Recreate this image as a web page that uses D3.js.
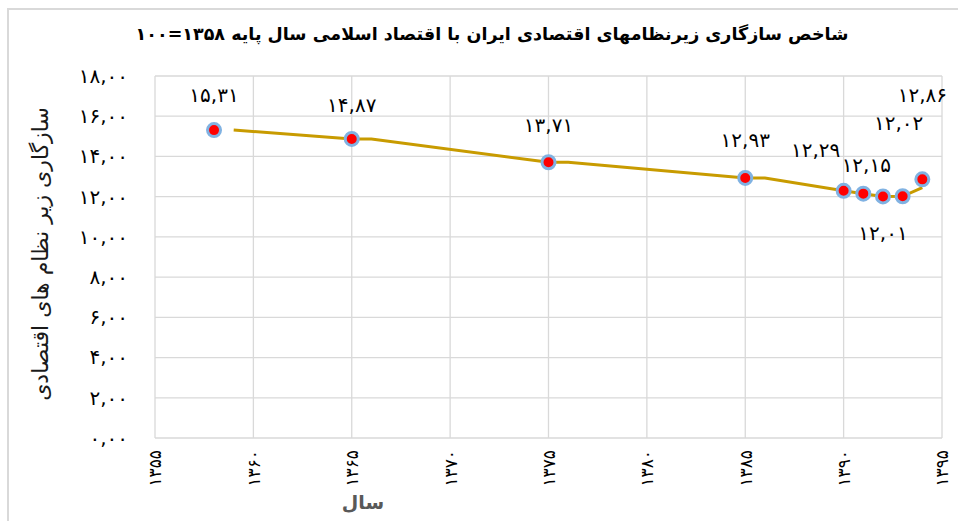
<!DOCTYPE html>
<html>
<head>
<meta charset="utf-8">
<script src="https://cdn.jsdelivr.net/npm/d3@7"></script>
<style>
  body { margin: 0; background: #fff; }
  text { font-family: "DejaVu Sans", sans-serif; }
</style>
</head>
<body>
<script>
// data
var years = [1358, 1365, 1375, 1385, 1390, 1391, 1392, 1393, 1394];
var values = [15.31, 14.87, 13.71, 12.93, 12.29, 12.15, 12.01, 12.02, 12.86];
// the gold line as drawn in the picture
var lineYears = [1359, 1365, 1366, 1375, 1376, 1385, 1386, 1390, 1391, 1392, 1393, 1394];
var lineValues = [15.31, 14.87, 14.87, 13.71, 13.71, 12.93, 12.93, 12.29, 12.15, 12.01, 12.02, 12.45];
var yTicks = [0, 2, 4, 6, 8, 10, 12, 14, 16, 18];
var xTicks = [1355, 1360, 1365, 1370, 1375, 1380, 1385, 1390, 1395];

var title = "شاخص سازگاری زیرنظامهای اقتصادی ایران با اقتصاد اسلامی سال پایه ۱۳۵۸=۱۰۰";
var yTitle = "سازگاری زیر نظام های اقتصادی";
var xTitle = "سال";

// label offsets from each point (dx, dy)
var labelOffsets = [[0, -35], [0, -34], [0, -37], [0, -38], [-28, -41], [3, -29], [0, 37], [-4, -73], [0, -84]];

var W = 958, H = 521;
var fa = "۰۱۲۳۴۵۶۷۸۹";
function toFa(s) {
    return String(s).replace(/[0-9]/g, function (c) { return fa[+c]; });
}
function fmt(v) {
    return toFa(d3.format(".2f")(v).replace(".", ","));
}

var svg = d3.select("body").append("svg")
    .attr("width", W)
    .attr("height", H);

// outer frame
svg.append("rect")
    .attr("x", 8).attr("y", 9)
    .attr("width", 1000).attr("height", 600)
    .attr("fill", "#fff")
    .attr("stroke", "#d9d9d9")
    .attr("stroke-width", 2);

var x = d3.scaleLinear().domain([1355, 1395]).range([155, 942]);
var y = d3.scaleLinear().domain([0, 18]).range([438, 76]);

// grid
svg.append("g")
    .selectAll("line")
    .data(yTicks)
    .enter().append("line")
    .attr("x1", x(1355)).attr("x2", x(1395))
    .attr("y1", function (d) { return y(d); })
    .attr("y2", function (d) { return y(d); })
    .attr("stroke", "#d9d9d9")
    .attr("stroke-width", 1.3);

svg.append("g")
    .selectAll("line")
    .data(xTicks)
    .enter().append("line")
    .attr("x1", function (d) { return x(d); })
    .attr("x2", function (d) { return x(d); })
    .attr("y1", y(0)).attr("y2", y(18))
    .attr("stroke", "#d9d9d9")
    .attr("stroke-width", 1.3);

// Y axis
var yAxis = svg.append("g")
    .attr("transform", "translate(" + x(1355) + ",0)")
    .call(d3.axisLeft(y).tickValues(yTicks).tickSize(0).tickPadding(27).tickFormat(fmt));
yAxis.select(".domain").remove();
yAxis.selectAll("text")
    .style("font-size", "20px")
    .style("letter-spacing", "0.5px")
    .attr("fill", "#000");

// X axis
var xAxis = svg.append("g")
    .attr("transform", "translate(0," + y(0) + ")")
    .call(d3.axisBottom(x).tickValues(xTicks).tickSize(0).tickFormat(function (d) { return toFa(d); }));
xAxis.select(".domain").remove();
xAxis.selectAll("text")
    .style("font-size", "17px")
    .attr("fill", "#000")
    .attr("text-anchor", "end")
    .attr("dy", "0.35em")
    .attr("transform", "translate(0,12) rotate(-90)")
    .attr("x", 0).attr("y", 0);

// gold line
var line = d3.line()
    .x(function (d, i) { return x(lineYears[i]); })
    .y(function (d) { return y(d); });

svg.append("path")
    .datum(lineValues)
    .attr("fill", "none")
    .attr("stroke", "#c89b00")
    .attr("stroke-width", 3)
    .attr("d", line);

// markers
svg.append("g")
    .selectAll("circle")
    .data(values)
    .enter().append("circle")
    .attr("cx", function (d, i) { return x(years[i]); })
    .attr("cy", function (d) { return y(d); })
    .attr("r", 6.5)
    .attr("fill", "#ff0000")
    .attr("stroke", "#80b2e2")
    .attr("stroke-width", 3);

// data labels
svg.append("g")
    .selectAll("text")
    .data(values)
    .enter().append("text")
    .attr("x", function (d, i) { return x(years[i]) + labelOffsets[i][0]; })
    .attr("y", function (d, i) { return y(d) + labelOffsets[i][1]; })
    .attr("dy", "0.35em")
    .attr("text-anchor", "middle")
    .style("font-size", "20px")
    .style("letter-spacing", "1px")
    .text(fmt);

// titles
svg.append("text")
    .attr("x", 492).attr("y", 40)
    .attr("text-anchor", "middle")
    .attr("direction", "rtl")
    .style("font-size", "17.5px")
    .style("font-weight", "bold")
    .attr("fill", "#000")
    .text(title);

svg.append("text")
    .attr("transform", "translate(48,254) rotate(-90)")
    .attr("text-anchor", "middle")
    .attr("direction", "rtl")
    .style("font-size", "22px")
    .attr("fill", "#1a1a1a")
    .text(yTitle);

svg.append("text")
    .attr("x", 363).attr("y", 509)
    .attr("text-anchor", "middle")
    .attr("direction", "rtl")
    .style("font-size", "19px")
    .style("font-weight", "bold")
    .attr("fill", "#595959")
    .text(xTitle);
</script>
</body>
</html>
